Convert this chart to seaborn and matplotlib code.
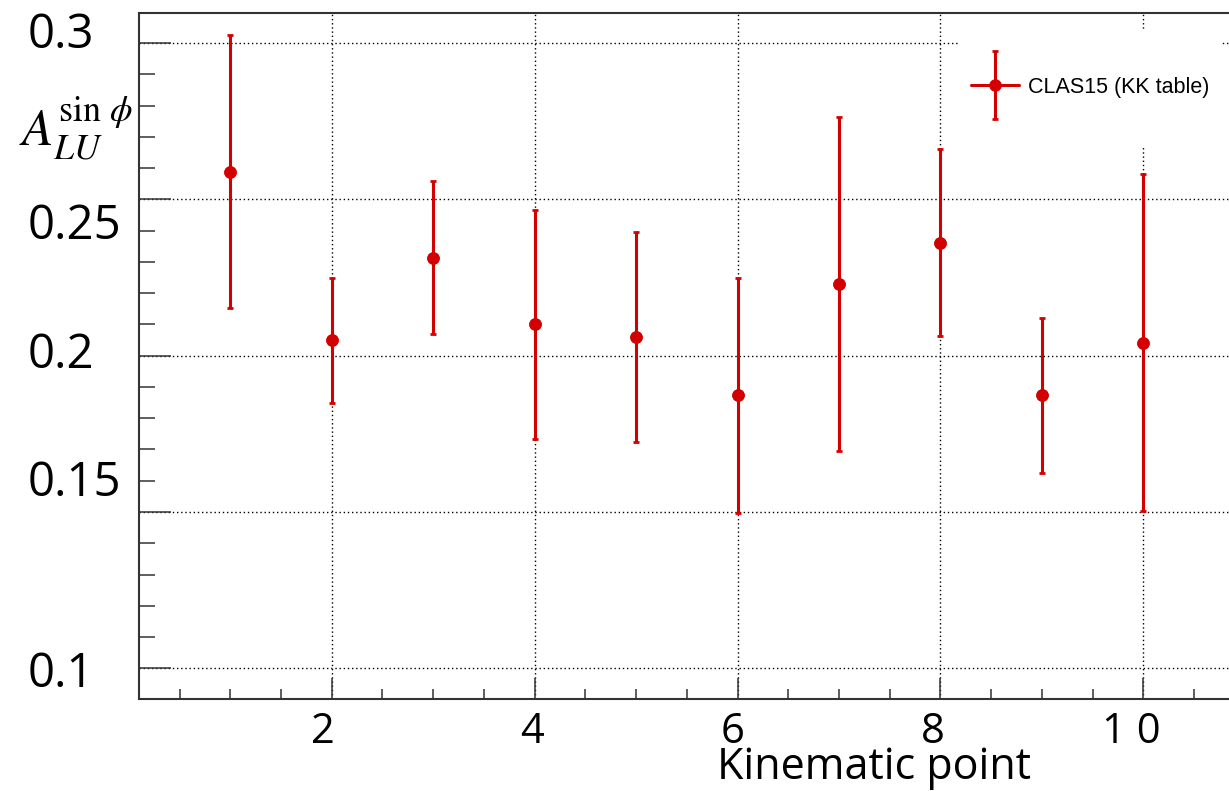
import numpy as np
import seaborn as sns
import matplotlib
matplotlib.use("Agg")
from matplotlib import pyplot as plt
from matplotlib.ticker import MultipleLocator
from matplotlib.transforms import ScaledTranslation
from matplotlib.legend_handler import HandlerErrorbar
from matplotlib.container import ErrorbarContainer

# Data
kin_point = [1, 2, 3, 4, 5, 6, 7, 8, 9, 10]
alu = [0.2589, 0.2050, 0.2314, 0.2100, 0.2061, 0.1873, 0.2228, 0.2362, 0.1873, 0.2042]
alu_err = [0.0437, 0.0200, 0.0245, 0.0367, 0.0336, 0.0376, 0.0534, 0.0298, 0.0248, 0.0540]

x_ticks = [2, 4, 6, 8, 10]
x_tick_labels = ["2", "4", "6", "8", "1 0"]
y_ticks = [0.1, 0.15, 0.2, 0.25, 0.3]
y_tick_labels = ["0.1", "0.15", "0.2", "0.25", "0.3"]
legend_label = "CLAS15 (KK table)"

# the labels in the original sit a bit off their ticks (pixels)
x_label_shift = [-9, -3, -4.5, -8, -12]
y_label_shift = [0, 34.7, 6, -21.5, 13.5]

red = "#d40000"
frame = "#333333"

sns.set_theme(style="ticks")
plt.rcParams['font.family'] = ['Open Sans', 'DejaVu Sans']
plt.rcParams['mathtext.fontset'] = 'stix'
plt.rcParams['text.color'] = 'black'
plt.rcParams['axes.labelcolor'] = 'black'
plt.rcParams['xtick.labelcolor'] = 'black'
plt.rcParams['ytick.labelcolor'] = 'black'


class PointWithBar(HandlerErrorbar):
    # ROOT style "lep" entry: line + error bar + point, point level with the text
    def create_artists(self, legend, orig_handle, xdescent, ydescent,
                       width, height, fontsize, trans):
        height = ydescent + 0.72 * fontsize
        artists = super().create_artists(legend, orig_handle, xdescent, ydescent,
                                         width, height, fontsize, trans)
        artists[-2].set_linestyle('-')
        artists[-2].set_linewidth(2.2)
        return artists


fig = plt.figure(figsize=(12.29, 7.91), dpi=100)
ax = fig.add_axes([139 / 1229, 92 / 791, 1095.6 / 1229, 686 / 791])

df_x = np.array(kin_point)
df_y = np.array(alu)
cont = ax.errorbar(df_x, df_y, yerr=alu_err, fmt='o', color=red, ms=8,
                   mec=red, elinewidth=2.2, capsize=2.3, capthick=2,
                   label=legend_label, zorder=3)
sns.scatterplot(x=df_x, y=df_y, ax=ax, color=red, s=64, edgecolor=red,
                linewidth=1, legend=False, zorder=4)

ax.set_xlim(0.1, 10.9)
ax.set_ylim(0.0902, 0.3096)

ax.set_xticks(x_ticks, x_tick_labels)
ax.set_yticks(y_ticks, y_tick_labels)
ax.xaxis.set_minor_locator(MultipleLocator(0.5))
ax.yaxis.set_minor_locator(MultipleLocator(0.01))

ax.tick_params(axis='both', which='both', direction='in', color=frame, width=1.1)
ax.tick_params(axis='y', which='major', length=23, pad=80.5, labelsize=34)
ax.tick_params(axis='y', which='minor', length=11.5)
ax.tick_params(axis='x', which='major', length=15, pad=8.6, labelsize=30)
ax.tick_params(axis='x', which='minor', length=7)
for lab in ax.get_yticklabels():
    lab.set_horizontalalignment('left')

for side in ['left', 'bottom', 'top', 'right']:
    ax.spines[side].set_color(frame)
    ax.spines[side].set_linewidth(1.5)

ax.grid(True, which='major', color='black', linestyle=(0, (1, 2)), linewidth=1.0)
ax.set_axisbelow(True)

ax.set_xlabel("Kinematic point", fontsize=31)
ax.xaxis.set_label_coords(0.6709, -0.1166)
ax.xaxis.label.set_verticalalignment('baseline')

ax.set_ylabel(r"$A_{LU}^{\sin\,\phi}$", fontsize=37, rotation=0)
ax.yaxis.set_label_coords(-0.0575, 0.832)
ax.yaxis.label.set_verticalalignment('center')
ax.yaxis.label.set_horizontalalignment('center')

leg = ax.legend(handles=[cont], labels=[legend_label],
                handler_map={ErrorbarContainer: PointWithBar(yerr_size=1.58)},
                loc='upper left', bbox_to_anchor=(960 / 1229, 1 - 30 / 791),
                bbox_transform=fig.transFigure, borderaxespad=0, borderpad=0.5,
                handlelength=2.23, handleheight=6.4, handletextpad=0.45,
                numpoints=1, fancybox=False, frameon=True, framealpha=1,
                facecolor='white', edgecolor='none',
                prop={'family': 'Liberation Sans', 'size': 15.5})

fig.canvas.draw()
for lab, dx in zip(ax.get_xticklabels(), x_label_shift):
    lab.set_transform(lab.get_transform() + ScaledTranslation(dx / 100, 0, fig.dpi_scale_trans))
for lab, dy in zip(ax.get_yticklabels(), y_label_shift):
    lab.set_transform(lab.get_transform() + ScaledTranslation(0, dy / 100, fig.dpi_scale_trans))

plt.savefig("out.png", dpi=100)
